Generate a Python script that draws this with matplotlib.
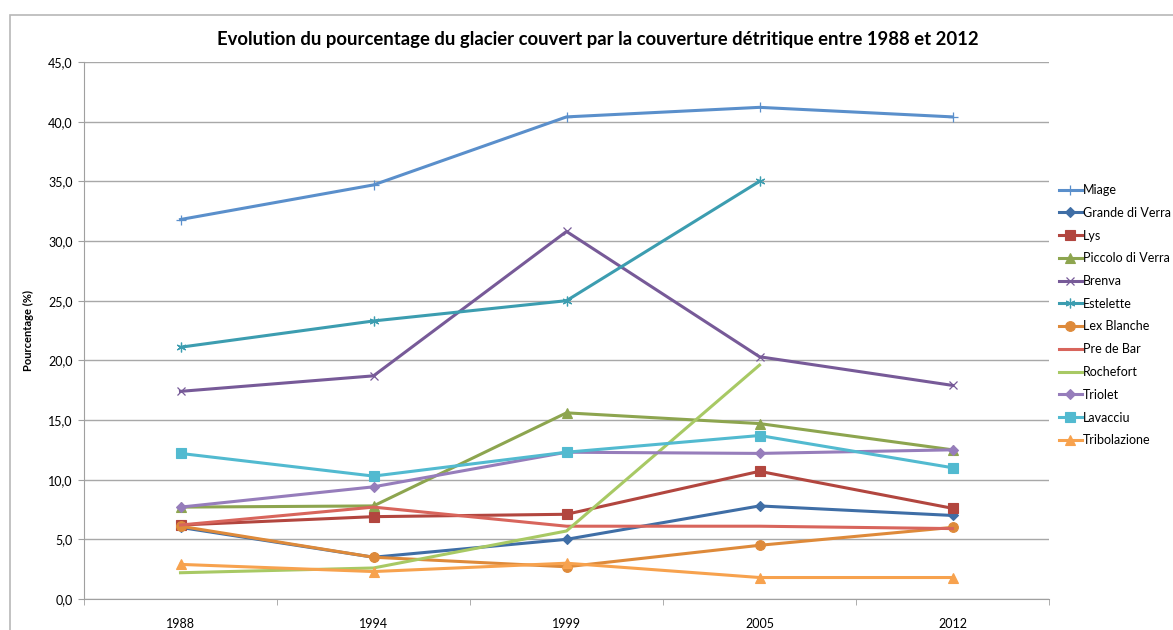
import numpy as np
import matplotlib.pyplot as plt
from matplotlib.patches import Rectangle

# data
years = ['1988', '1994', '1999', '2005', '2012']
miage = [31.8, 34.7, 40.4, 41.2, 40.4]
grande_di_verra = [6.0, 3.5, 5.0, 7.8, 7.0]
lys = [6.2, 6.9, 7.1, 10.7, 7.6]
piccolo_di_verra = [7.7, 7.8, 15.6, 14.7, 12.5]
brenva = [17.4, 18.7, 30.8, 20.3, 17.9]
estelette = [21.1, 23.3, 25.0, 35.0, np.nan]
lex_blanche = [6.1, 3.5, 2.7, 4.5, 6.0]
pre_de_bar = [6.2, 7.7, 6.1, 6.1, 5.9]
rochefort = [2.2, 2.6, 5.7, 19.6, np.nan]
triolet = [7.7, 9.4, 12.3, 12.2, 12.5]
lavacciu = [12.2, 10.3, 12.3, 13.7, 11.0]
tribolazione = [2.9, 2.3, 3.0, 1.8, 1.8]

series = [
    ('Miage', miage, '#5A8FCB', '+', 7),
    ('Grande di Verra', grande_di_verra, '#3F6EA6', 'D', 5),
    ('Lys', lys, '#B2463F', 's', 7),
    ('Piccolo di Verra', piccolo_di_verra, '#8DA54F', '^', 7),
    ('Brenva', brenva, '#775A98', 'x', 6),
    ('Estelette', estelette, '#3C9DB0', (6, 2, 0), 7),
    ('Lex Blanche', lex_blanche, '#DE8A3A', 'o', 7),
    ('Pre de Bar', pre_de_bar, '#D8655C', None, 0),
    ('Rochefort', rochefort, '#A8C964', None, 0),
    ('Triolet', triolet, '#967DBB', 'D', 5),
    ('Lavacciu', lavacciu, '#52BAD0', 's', 7),
    ('Tribolazione', tribolazione, '#F7A24E', '^', 7),
]

plt.rcParams['font.family'] = ['Lato', 'DejaVu Sans']

fig = plt.figure(figsize=(11.73, 6.3), dpi=100)
ax = fig.add_axes([84 / 1173, 1 - 599 / 630, (1049 - 84) / 1173, (599 - 62) / 630])

x = np.arange(len(years))
for name, vals, color, marker, ms in series:
    thin = marker in ('+', 'x', (6, 2, 0))
    ax.plot(x, vals, color=color, lw=2.2, marker=marker, markersize=ms,
            markeredgewidth=0.9 if thin else 0.8, label=name)

ax.set_xlim(-0.5, len(years) - 0.5)
ax.set_ylim(0, 45)
ax.set_yticks(np.arange(0, 45.1, 5))
ax.set_yticklabels([('%.1f' % v).replace('.', ',') for v in np.arange(0, 45.1, 5)])
ax.set_xticks(x)
ax.set_xticklabels(years)
ax.set_xticks(np.arange(-0.5, len(years), 1), minor=True)
ax.tick_params(axis='x', which='major', length=0, pad=14, labelsize=9)
ax.tick_params(axis='x', which='minor', length=4, color='#A0A0A0')
ax.tick_params(axis='y', length=4, color='#A0A0A0', labelsize=9, pad=4)

ax.grid(axis='y', color='#A8A8A8', lw=1)
ax.set_axisbelow(True)
for side in ['top', 'right']:
    ax.spines[side].set_visible(False)
for side in ['left', 'bottom']:
    ax.spines[side].set_color('#A0A0A0')

ax.set_ylabel('Pourcentage (%)', fontsize=8, fontweight='bold', labelpad=10)

fig.text(598 / 1173, 1 - 40 / 630,
         'Evolution du pourcentage du glacier couvert par la couverture détritique entre 1988 et 2012',
         ha='center', va='center', fontsize=13.3, fontweight='bold')

ax.legend(loc='upper left', bbox_to_anchor=(1054 / 1173, 1 - 179 / 630),
          bbox_transform=fig.transFigure, frameon=False, fontsize=9,
          handlelength=1.8, handletextpad=0.1, labelspacing=0.86, borderaxespad=0)

# outer chart frame
fig.patches.append(Rectangle((10 / 1173, -0.01), 1.2, 1 - 15 / 630 + 0.01,
                             transform=fig.transFigure, fill=False,
                             edgecolor='#B8B8B8', lw=1.2))

plt.savefig('out.png', dpi=100)
